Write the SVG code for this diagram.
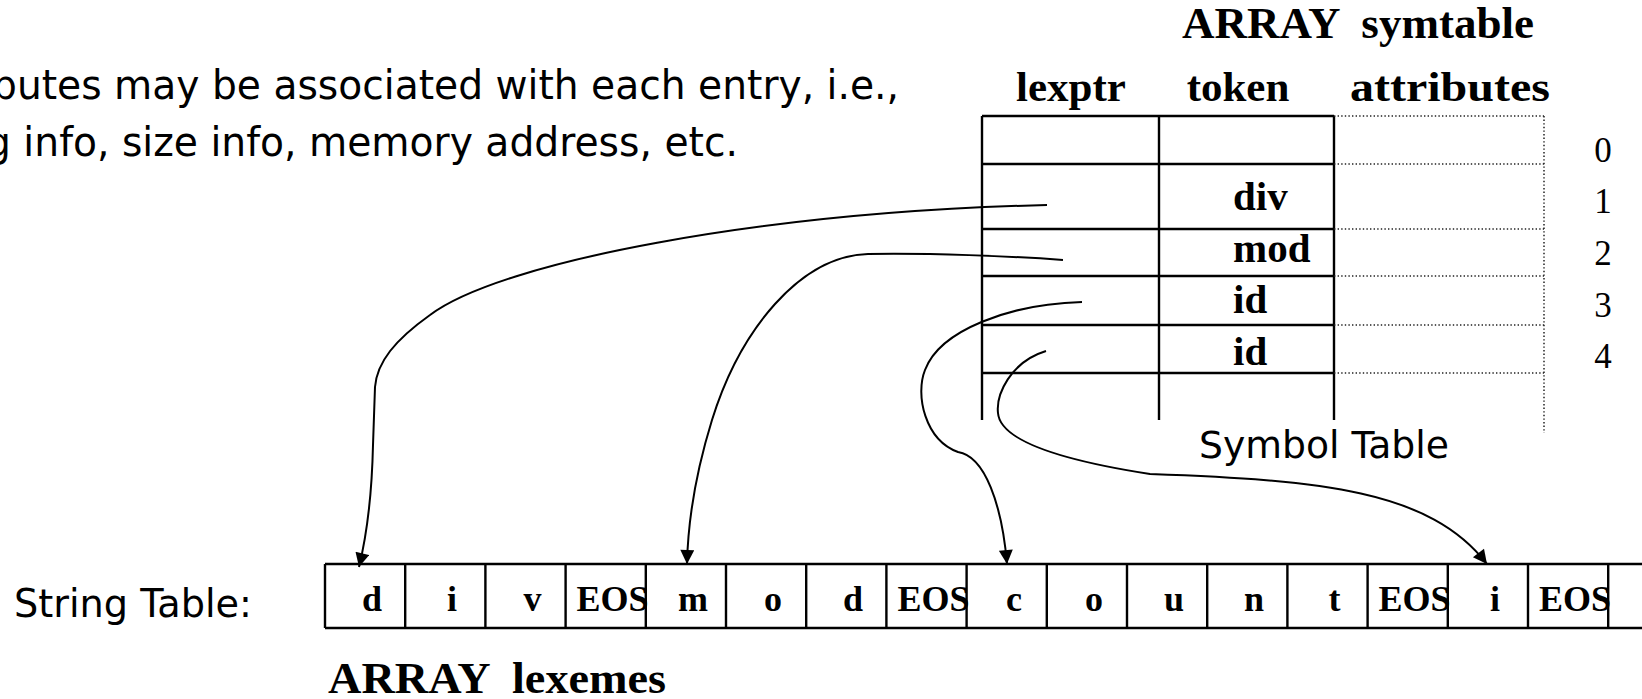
<svg xmlns="http://www.w3.org/2000/svg" width="1642" height="699" viewBox="0 0 1642 699">
<style>
  .bg{fill:#fff}
  .grid{stroke:#000;stroke-width:2.4;fill:none}
  .dot{stroke:#222;stroke-width:1.5;stroke-dasharray:1.4 2.2;fill:none}
  .conn{stroke:#000;stroke-width:2;fill:none}
  .tb{font-family:"Liberation Serif","Times New Roman",serif;font-weight:bold;fill:#000}
  .hd{font-size:43px}
  .ttl{font-size:44px}
  .cell{font-size:36px}
  .tok{font-size:41px}
  .num{font-family:"Liberation Serif","Times New Roman",serif;font-size:35px;fill:#000;text-anchor:middle}
  .sans{font-family:"DejaVu Sans","Noto Sans",sans-serif;fill:#000}
  .mid{text-anchor:middle}
</style>
<defs>
  <marker id="arrow" viewBox="0 0 10 10" refX="10" refY="5" markerUnits="userSpaceOnUse" markerWidth="16" markerHeight="14" orient="auto">
    <path d="M0,0 L10,5 L0,10 z" fill="#000"/>
  </marker>
</defs>
<rect class="bg" x="0" y="0" width="1642" height="699"/>

<g id="note">
  <text class="sans" x="-8" y="99" font-size="40" textLength="907" lengthAdjust="spacingAndGlyphs">butes may be associated with each entry, i.e.,</text>
  <text class="sans" x="-14" y="156" font-size="40" textLength="752" lengthAdjust="spacingAndGlyphs">g info, size info, memory address, etc.</text>
</g>

<g id="symtable">
  <text class="tb ttl" x="1182" y="38" textLength="352" lengthAdjust="spacingAndGlyphs" xml:space="preserve">ARRAY  symtable</text>
  <text class="tb hd" x="1016" y="101">lexptr</text>
  <text class="tb hd" x="1238" y="101" text-anchor="middle">token</text>
  <text class="tb hd" x="1350" y="101" textLength="200" lengthAdjust="spacingAndGlyphs">attributes</text>
  <path class="grid" d="M982,116H1334M982,164H1334M982,229H1334M982,276H1334M982,325H1334M982,373H1334M982,116V420M1159,116V420M1334,116V420"/>
  <path class="dot" d="M1334,116H1544M1334,164H1544M1334,229H1544M1334,276H1544M1334,325H1544M1334,373H1544M1544,116V433"/>
  <text class="tb tok" x="1233" y="210">div</text>
  <text class="tb tok" x="1233" y="262">mod</text>
  <text class="tb tok" x="1233" y="313">id</text>
  <text class="tb tok" x="1233" y="365">id</text>
  <text class="num" x="1603" y="162">0</text>
  <text class="num" x="1603" y="213">1</text>
  <text class="num" x="1603" y="265">2</text>
  <text class="num" x="1603" y="317">3</text>
  <text class="num" x="1603" y="368">4</text>
</g>

<g id="symbol-table-label">
  <text class="sans" x="1199" y="458" font-size="37" textLength="250" lengthAdjust="spacingAndGlyphs">Symbol Table</text>
</g>

<g id="string-table-label">
  <text class="sans" x="14" y="617" font-size="39" textLength="238" lengthAdjust="spacingAndGlyphs">String Table:</text>
</g>

<g id="string-table">
  <path class="grid" d="M325,564H1642M325,628H1642M325,564V628M405.2,564V628M485.4,564V628M565.6,564V628M645.8,564V628M726,564V628M806.2,564V628M886.4,564V628M966.6,564V628M1046.8,564V628M1127,564V628M1207.2,564V628M1287.4,564V628M1367.6,564V628M1447.8,564V628M1528,564V628M1608.2,564V628"/>
  <text class="tb cell mid" x="372" y="611">d</text>
  <text class="tb cell mid" x="452" y="611">i</text>
  <text class="tb cell mid" x="532.5" y="611">v</text>
  <text class="tb cell" x="576.6" y="611">EOS</text>
  <text class="tb cell mid" x="693" y="611">m</text>
  <text class="tb cell mid" x="773" y="611">o</text>
  <text class="tb cell mid" x="853" y="611">d</text>
  <text class="tb cell" x="897.4" y="611">EOS</text>
  <text class="tb cell mid" x="1014" y="611">c</text>
  <text class="tb cell mid" x="1094" y="611">o</text>
  <text class="tb cell mid" x="1174" y="611">u</text>
  <text class="tb cell mid" x="1254" y="611">n</text>
  <text class="tb cell mid" x="1334.5" y="611">t</text>
  <text class="tb cell" x="1378.6" y="611">EOS</text>
  <text class="tb cell mid" x="1495" y="611">i</text>
  <text class="tb cell" x="1539" y="611">EOS</text>
  <text class="tb ttl" x="328" y="693" textLength="338" lengthAdjust="spacingAndGlyphs" xml:space="preserve">ARRAY  lexemes</text>
</g>

<g id="connectors">
  <path class="conn" marker-end="url(#arrow)" d="M1047,205 C760,212 500,262 430,315 C395,340 377,362 375,387 L373,445 C372,490 368,530 359,567"/>
  <path class="conn" marker-end="url(#arrow)" d="M1063,260 C1010,256 930,253 868,254 C800,256 740,330 712,420 C695,475 688,520 687,564"/>
  <path class="conn" marker-end="url(#arrow)" d="M1082,302 C1010,304 940,330 925,370 C915,395 925,440 958,452 C985,456 1002,505 1007,564"/>
  <path class="conn" marker-end="url(#arrow)" d="M1046,351 C1010,362 996,395 998,413 C1000,440 1060,460 1150,474 C1320,480 1430,490 1487,564"/>
</g>
</svg>
